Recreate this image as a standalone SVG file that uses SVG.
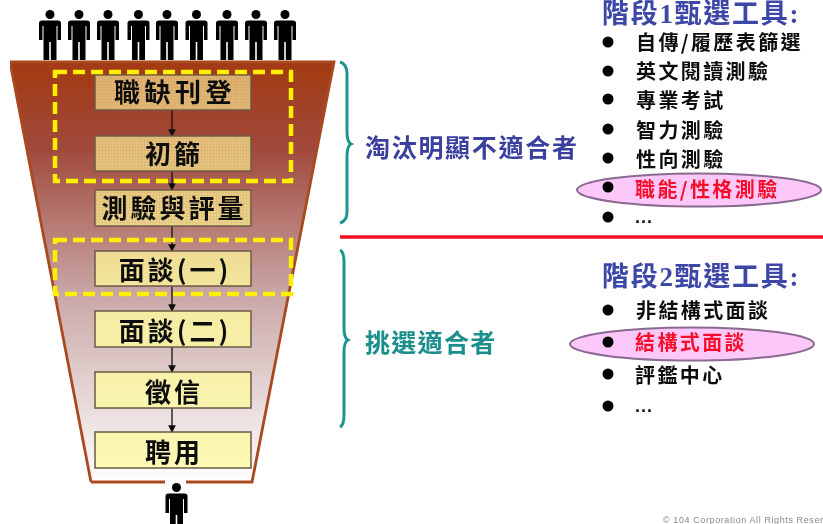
<svg xmlns="http://www.w3.org/2000/svg" width="823" height="524" viewBox="0 0 823 524">
<style>
text{font-family:"Noto Sans CJK TC","Noto Sans CJK SC",sans-serif;font-weight:700}
.box{stroke:#6b5a44;stroke-width:1.5}
.bt{font-size:26px;fill:#111;text-anchor:middle}
.dash{fill:none;stroke:#ffef00;stroke-width:4.5;stroke-dasharray:12 6}
.conn{stroke:#111;stroke-width:1.3;fill:none;marker-end:url(#ah)}
.head{font-size:27px;fill:#3c47a8;font-family:"Liberation Serif","Noto Sans CJK TC",serif}
.li{font-size:20px;fill:#111;letter-spacing:2.400px}
.dots{font-size:18px;fill:#111;font-family:"Liberation Sans",sans-serif;letter-spacing:1px}
.red{fill:#f5102a}
.ell{fill:#fcc8fa;stroke:#8a6a90;stroke-width:2}
.brace{fill:none;stroke:#1f9490;stroke-width:3}
.hatch{fill:url(#grid);stroke:none}
</style>
<defs>
<linearGradient id="fg" x1="0" y1="0" x2="0" y2="1"><stop offset="0" stop-color="#a33a12"/><stop offset="0.2" stop-color="#a0483a"/><stop offset="0.55" stop-color="#c9a6a6"/><stop offset="1" stop-color="#ffffff"/></linearGradient>
<linearGradient id="bg" gradientUnits="userSpaceOnUse" x1="0" y1="75" x2="0" y2="468"><stop offset="0" stop-color="#e0b070"/><stop offset="0.35" stop-color="#ecd088"/><stop offset="0.6" stop-color="#f5eca4"/><stop offset="1" stop-color="#fbf9b4"/></linearGradient>
<pattern id="grid" width="3" height="3" patternUnits="userSpaceOnUse"><path d="M0 0H3M0 0V3" stroke="#b08a50" stroke-width="0.600" fill="none" opacity="0.500"/></pattern>
<marker id="ah" viewBox="0 0 8 8" refX="7" refY="4" markerWidth="6" markerHeight="6" orient="auto"><path d="M0 0L8 4L0 8Z" fill="#111"/></marker>
<symbol id="p" viewBox="0 0 22 50" width="22" height="50" overflow="visible"><circle cx="11" cy="4.500" r="4.500" fill="#000"/><path d="M3 10.500H19Q22 10.500 22 13V30H18.500V16H17.500V50H11.800V32H10.200V50H4.500V16H3.500V30H0V13Q0 10.500 3 10.500Z" fill="#000"/></symbol>
<filter id="soft" x="0" y="0" width="100%" height="100%"><feGaussianBlur stdDeviation="0.600"/></filter>
</defs>
<rect width="823" height="524" fill="#fff"/>
<g filter="url(#soft)">
<g id="people">
<use href="#p" x="39" y="10"/><use href="#p" x="68" y="10"/><use href="#p" x="97" y="10"/><use href="#p" x="127.500" y="10"/><use href="#p" x="156" y="10"/><use href="#p" x="185.500" y="10"/><use href="#p" x="216" y="10"/><use href="#p" x="245" y="10"/><use href="#p" x="274" y="10"/>
</g>
<g id="funnel"><path d="M10 62H334L252 482H91Z" fill="url(#fg)"/><path d="M91 482L10 62H334L252 482H186M165 482H91" fill="none" stroke="#a84a20" stroke-width="2.800"/><path d="M165 482H186" stroke="#fff" stroke-width="5"/></g>
<g id="connectors">
<path class="conn" d="M172 110V136"/><path class="conn" d="M172 171V190"/><path class="conn" d="M172 226V251"/><path class="conn" d="M172 286V311"/><path class="conn" d="M172 347V372"/><path class="conn" d="M172 408V432"/>
</g>
<g id="n1"><rect class="box" x="95" y="75" width="156" height="35" fill="url(#bg)"/><rect class="hatch" x="95" y="75" width="156" height="35"/><text class="bt" x="175" y="102" letter-spacing="4.500">職缺刊登</text></g>
<g id="n2"><rect class="box" x="95" y="136" width="156" height="35" fill="url(#bg)"/><rect class="hatch" x="95" y="136" width="156" height="35"/><text class="bt" x="174" y="164" letter-spacing="3">初篩</text></g>
<g id="n3"><rect class="box" x="95" y="190" width="156" height="36" fill="url(#bg)"/><rect class="hatch" x="95" y="190" width="156" height="36"/><text class="bt" x="174" y="218" letter-spacing="3">測驗與評量</text></g>
<g id="n4"><rect class="box" x="95" y="251" width="156" height="35" fill="url(#bg)"/><text class="bt" x="175" y="280" letter-spacing="3">面談(一)</text></g>
<g id="n5"><rect class="box" x="95" y="311" width="156" height="36" fill="url(#bg)"/><text class="bt" x="175" y="341" letter-spacing="3">面談(二)</text></g>
<g id="n6"><rect class="box" x="95" y="372" width="156" height="36" fill="url(#bg)"/><text class="bt" x="174" y="402" letter-spacing="3">徵信</text></g>
<g id="n7"><rect class="box" x="95" y="432" width="156" height="36" fill="url(#bg)"/><text class="bt" x="174" y="462" letter-spacing="3">聘用</text></g>
<rect class="dash" x="55" y="72" width="236" height="109"/>
<rect class="dash" x="55" y="240" width="236" height="54"/>
<use href="#p" x="165.500" y="483"/>
<path class="brace" d="M340 62Q347 64 347 74V132Q347 142 351 144Q347 146 347 156V212Q347 221 340 223"/>
<path class="brace" d="M340 250Q344 252 344 262V328Q344 338 348 340Q344 342 344 352V415Q344 425 340 427"/>
<path d="M340 237H823" stroke="#f01020" stroke-width="3.500"/>
<text x="365" y="157" font-size="25" fill="#3a3f9e" letter-spacing="1.700">淘汰明顯不適合者</text>
<text x="365" y="352" font-size="25" fill="#1a8f8c" letter-spacing="1.300">挑選適合者</text>
<g id="stage1">
<text class="head" x="602" y="23" letter-spacing="1.700">階段1甄選工具:</text>
<ellipse class="ell" cx="699" cy="190" rx="122" ry="16.500"/>
<g fill="#000"><circle cx="608" cy="42" r="5.500"/><circle cx="608" cy="71" r="5.500"/><circle cx="608" cy="99" r="5.500"/><circle cx="608" cy="129" r="5.500"/><circle cx="608" cy="158" r="5.500"/><circle cx="608" cy="187" r="5.500"/><circle cx="608" cy="217" r="5.500"/></g>
<text class="li" x="636" y="50">自傳/履歷表篩選</text>
<text class="li" x="636" y="79">英文閱讀測驗</text>
<text class="li" x="636" y="108">專業考試</text>
<text class="li" x="636" y="138">智力測驗</text>
<text class="li" x="636" y="167">性向測驗</text>
<text class="li red" x="635" y="197">職能/性格測驗</text>
<text class="dots" x="635" y="223">...</text>
</g>
<g id="stage2">
<text class="head" x="602" y="286" letter-spacing="1.700">階段2甄選工具:</text>
<ellipse class="ell" cx="692" cy="344" rx="122" ry="16.500"/>
<g fill="#000"><circle cx="608" cy="310" r="5.500"/><circle cx="608" cy="342" r="5.500"/><circle cx="608" cy="374" r="5.500"/><circle cx="608" cy="406" r="5.500"/></g>
<text class="li" x="636" y="318">非結構式面談</text>
<text class="li red" x="635" y="350">結構式面談</text>
<text class="li" x="635" y="383">評鑑中心</text>
<text class="dots" x="635" y="412">...</text>
</g>
<text x="663" y="523" font-size="9" fill="#888" style="font-family:'Liberation Sans',sans-serif;font-weight:400" letter-spacing="0.600">© 104 Corporation All Rights Reser</text>
</g>
</svg>
